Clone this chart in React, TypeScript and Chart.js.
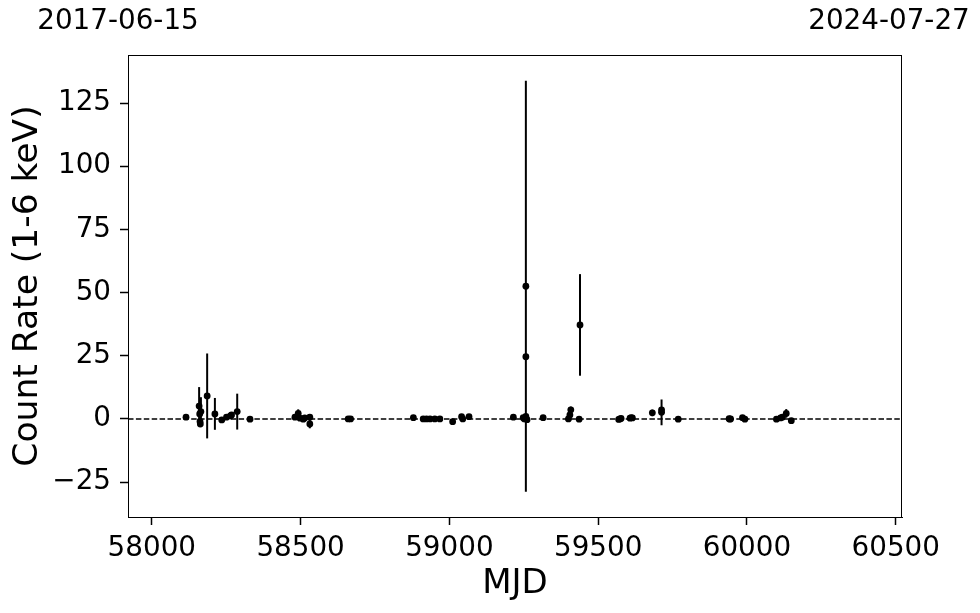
import React, { useEffect, useRef } from 'react';
import { Chart, registerables } from 'chart.js';
Chart.register(...registerables);

// Observation epochs (MJD), count rates (1-6 keV) and 1-sigma errors (0 = no visible bar)
const mjd = [
  58115, 58159, 58161, 58162, 58163, 58165, 58186, 58212, 58235, 58251, 58264, 58268, 58287, 58330,
  58481, 58492, 58498, 58509, 58514, 58531, 58531,
  58660, 58668,
  58879, 58912, 58923, 58935, 58951, 58968, 59011, 59041, 59045, 59066,
  59215, 59248, 59252, 59257, 59261, 59257, 59257, 59315,
  59400, 59405, 59408, 59436, 59439,
  59569, 59573, 59577, 59607, 59611, 59615,
  59682, 59713, 59713, 59769,
  59940, 59942, 59945, 59985, 59993,
  60099, 60113, 60119, 60132, 60149,
];
const rate = [
  0.7, 5.1, 2.0, -1.0, -2.0, 2.9, 9.1, 2.0, -0.4, 0.7, 1.2, 1.6, 2.9, -0.1,
  0.7, 2.2, 0.3, -0.1, 0.4, 0.7, -2.0,
  0.0, 0.0,
  0.5, 0.0, 0.0, 0.0, 0.0, 0.0, -1.1, 0.9, 0.0, 0.9,
  0.7, 0.5, 0.0, 1.0, -0.3, 52.5, 24.6, 0.5,
  0.0, 1.6, 3.6, -0.1, 37.2,
  -0.2, 0.0, 0.2, 0.3, 0.5, 0.4,
  2.4, 2.6, 3.6, -0.1,
  0.1, -0.1, 0.0, 0.5, -0.1,
  -0.1, 0.4, 0.7, 2.2, -0.7,
];
const rateErr = [
  0, 7.5, 0, 0, 0, 5.7, 16.8, 6.3, 0, 0, 0, 0, 7.1, 0,
  0, 1.6, 0, 0, 0, 0, 1.7,
  0, 0,
  0, 0, 0, 0, 0, 0, 0, 0, 0, 0,
  0, 0, 0, 0, 0, 81.3, 0, 0,
  0, 0, 1.3, 0, 20.1,
  0, 0, 0, 0, 0, 0,
  1.3, 5.1, 0, 0,
  0, 0, 0, 0, 0,
  0, 0, 0, 1.7, 0,
];
const xTicks = [58000, 58500, 59000, 59500, 60000, 60500];
const yTicks = [-25, 0, 25, 50, 75, 100, 125];
const xRange = [57920, 60521];
const yRange = [-38.8, 144];
const topLabels = ['2017-06-15', '2024-07-27'];
const xTitle = 'MJD';
const yTitle = 'Count Rate (1-6 keV)';

const FONT = "'DejaVu Sans', sans-serif";

export default function App() {
  const ref = useRef<HTMLCanvasElement>(null);
  useEffect(() => {
    if (!ref.current) return;
    const extras = {
      id: 'extras',
      beforeDatasetsDraw(chart: any) {
        const { ctx, scales, chartArea } = chart;
        const x = scales.x, y = scales.y;
        ctx.save();
        ctx.beginPath();
        ctx.rect(chartArea.left, chartArea.top, chartArea.right - chartArea.left, chartArea.bottom - chartArea.top);
        ctx.clip();
        ctx.strokeStyle = '#000';
        ctx.lineWidth = 2;
        mjd.forEach((m, i) => {
          const e = rateErr[i];
          if (!e) return;
          const px = x.getPixelForValue(m);
          ctx.beginPath();
          ctx.moveTo(px, y.getPixelForValue(rate[i] - e));
          ctx.lineTo(px, y.getPixelForValue(rate[i] + e));
          ctx.stroke();
        });
        ctx.restore();
      },
      afterDraw(chart: any) {
        const { ctx, chartArea } = chart;
        ctx.save();
        ctx.strokeStyle = '#000';
        ctx.lineWidth = 1;
        ctx.strokeRect(chartArea.left + 0.5, chartArea.top + 0.5, chartArea.right - chartArea.left - 1, chartArea.bottom - chartArea.top);
        ctx.fillStyle = '#000';
        ctx.font = `27.8px ${FONT}`;
        ctx.textAlign = 'center';
        ctx.textBaseline = 'middle';
        ctx.fillText(topLabels[0], 118, 22);
        ctx.fillText(topLabels[1], 889, 22);
        ctx.restore();
      },
    };
    const chart = new Chart(ref.current, {
      type: 'scatter',
      data: {
        datasets: [
          {
            type: 'scatter',
            data: mjd.map((m, i) => ({ x: m, y: rate[i] })),
            backgroundColor: '#000',
            borderColor: '#000',
            pointRadius: 3.4,
            borderWidth: 0,
          },
          {
            type: 'line',
            data: [{ x: xRange[0], y: 0 }, { x: xRange[1], y: 0 }],
            borderColor: '#000',
            borderWidth: 1.4,
            borderDash: [5.5, 2.4],
            pointRadius: 0,
            fill: false,
          },
        ],
      } as any,
      options: {
        animation: false,
        responsive: false,
        devicePixelRatio: 1,
        layout: { padding: { top: 55, right: 78, left: 0, bottom: 0 } },
        plugins: { legend: { display: false }, tooltip: { enabled: false } },
        scales: {
          x: {
            type: 'linear',
            min: xRange[0],
            max: xRange[1],
            afterFit(s: any) { s.height = 96; },
            afterBuildTicks(s: any) { s.ticks = xTicks.map((v) => ({ value: v })); },
            grid: { drawOnChartArea: false, drawTicks: true, tickLength: 8, tickWidth: 1.5, tickColor: '#000' },
            border: { display: true, color: '#000', width: 1 },
            ticks: {
              autoSkip: false, maxRotation: 0, padding: 7, color: '#000',
              font: { family: FONT, size: 27.8 },
              callback: (v: any) => String(v),
            },
            title: { display: true, text: xTitle, color: '#000', font: { family: FONT, size: 34 }, padding: { top: 0, bottom: 8 } },
          },
          y: {
            type: 'linear',
            min: yRange[0],
            max: yRange[1],
            afterFit(s: any) { s.width = 128; },
            afterBuildTicks(s: any) { s.ticks = yTicks.map((v) => ({ value: v })); },
            grid: { drawOnChartArea: false, drawTicks: true, tickLength: 8, tickWidth: 1.5, tickColor: '#000' },
            border: { display: true, color: '#000', width: 1 },
            ticks: {
              autoSkip: false, padding: 9, color: '#000',
              font: { family: FONT, size: 27.8 },
              callback: (v: any) => (v < 0 ? '\u2212' + Math.abs(v) : String(v)),
            },
            title: { display: true, text: yTitle, color: '#000', font: { family: FONT, size: 34.5 }, padding: { top: 7, bottom: 0 } },
          },
        },
      } as any,
      plugins: [extras],
    });
    return () => chart.destroy();
  }, []);
  return (
    <canvas ref={ref} width={980} height={613} style={{ position: 'fixed', left: 0, top: 0, width: 980, height: 613 }} />
  );
}
